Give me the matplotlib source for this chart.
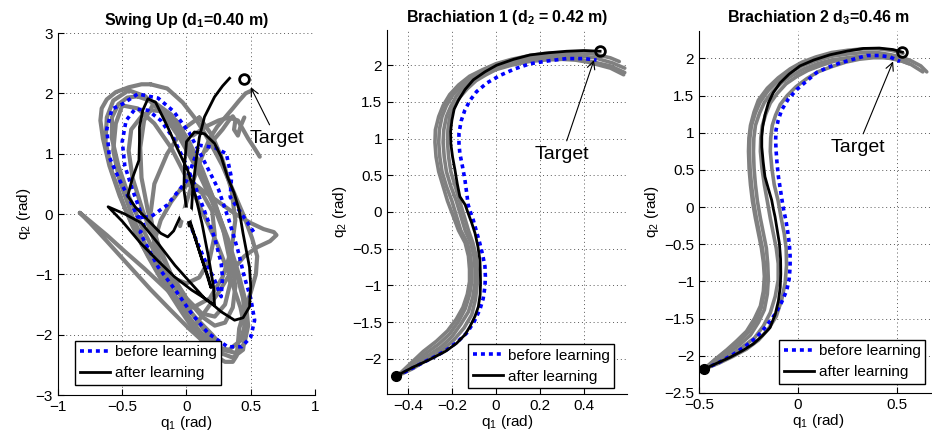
import numpy as np
import matplotlib.pyplot as plt

plt.rcParams['font.family'] = ['Liberation Sans', 'DejaVu Sans']
plt.rcParams['mathtext.fontset'] = 'custom'
plt.rcParams['mathtext.rm'] = 'Liberation Sans'
plt.rcParams['mathtext.it'] = 'Liberation Sans:italic'
plt.rcParams['mathtext.bf'] = 'Liberation Sans:bold'

# ---------------- Swing Up data ----------------
swing_gray_q1 = [
    [-0.28, -0.15, -0.03, 0.08, 0.18, 0.28, 0.37, 0.45, 0.51, 0.55, 0.54, 0.50, 0.45, 0.41, 0.40, 0.39, 0.36, 0.30, 0.22, 0.14, 0.05, -0.06, -0.18, -0.30, -0.42, -0.52, -0.60, -0.65, -0.67, -0.66, -0.62, -0.55, -0.45, -0.35, -0.28],
    [-0.38, -0.25, -0.12, 0.0, 0.12, 0.22, 0.32, 0.40, 0.46, 0.48, 0.45, 0.38, 0.28, 0.18, 0.06, -0.08, -0.22, -0.34, -0.45, -0.53, -0.58, -0.58, -0.53, -0.46, -0.38],
    [-0.18, -0.08, 0.02, 0.12, 0.21, 0.29, 0.35, 0.38, 0.36, 0.30, 0.22, 0.12, 0.00, -0.12, -0.24, -0.34, -0.42, -0.45, -0.43, -0.35, -0.27, -0.18],
    [0.0, 0.12, 0.25, 0.38, 0.50, 0.60, 0.68, 0.70, 0.65, 0.55, 0.45, 0.35, 0.25, 0.15, 0.05],
    [-0.83, -0.75, -0.62, -0.48, -0.33, -0.18, -0.03, 0.10, 0.20, 0.26, 0.25, 0.15, 0.02, -0.12, -0.28, -0.45, -0.62, -0.75, -0.83],
    [-0.05, 0.0, 0.06, 0.12, 0.18, 0.24, 0.30, 0.36, 0.41, 0.46, 0.51],
    [0.05, 0.15, 0.25, 0.33, 0.40, 0.44, 0.48, 0.52, 0.55, 0.57],
    [0.10, 0.20, 0.28, 0.35, 0.38, 0.35, 0.28, 0.18, 0.05, -0.08, -0.18, -0.25, -0.28, -0.25, -0.15, -0.03, 0.10],
    [-0.05, -0.12, -0.20, -0.25, -0.22, -0.12, 0.00, 0.10, 0.18, 0.22, 0.20, 0.12, 0.02, -0.05],
    [-0.45, -0.32, -0.18, -0.05, 0.08, 0.20, 0.30, 0.38, 0.44, 0.46, 0.42, 0.33, 0.22, 0.10, -0.05, -0.20, -0.35, -0.48, -0.58, -0.63, -0.62, -0.57, -0.45],
    [-0.25, -0.12, 0.0, 0.10, 0.20, 0.28, 0.33, 0.34, 0.30, 0.22, 0.12, 0.0, -0.12, -0.22, -0.30, -0.35, -0.36, -0.33, -0.25],
    [-0.50, -0.38, -0.25, -0.12, 0.0, 0.12, 0.24, 0.34, 0.42, 0.46, 0.44, 0.36, 0.26, 0.14, 0.0, -0.15, -0.30, -0.42, -0.52, -0.57, -0.55, -0.50],
    [0.15, 0.22, 0.28, 0.33, 0.36, 0.38, 0.37, 0.40, 0.42, 0.45],
]
swing_gray_q2 = [
    [2.15, 2.08, 1.85, 1.55, 1.20, 0.80, 0.35, -0.05, -0.40, -0.70, -1.00, -1.30, -1.60, -1.90, -2.15, -2.35, -2.45, -2.45, -2.35, -2.15, -1.90, -1.55, -1.15, -0.70, -0.20, 0.30, 0.80, 1.25, 1.55, 1.75, 1.90, 2.02, 2.10, 2.15, 2.15],
    [1.95, 1.85, 1.55, 1.15, 0.65, 0.15, -0.40, -0.95, -1.45, -1.85, -2.15, -2.30, -2.25, -2.05, -1.70, -1.25, -0.75, -0.25, 0.30, 0.80, 1.25, 1.60, 1.82, 1.93, 1.95],
    [1.70, 1.55, 1.20, 0.75, 0.25, -0.25, -0.75, -1.20, -1.55, -1.80, -1.85, -1.70, -1.40, -1.00, -0.50, 0.05, 0.60, 1.05, 1.40, 1.62, 1.72, 1.70],
    [0.60, 0.40, 0.20, 0.00, -0.15, -0.25, -0.30, -0.35, -0.45, -0.55, -0.70, -0.95, -1.30, -1.60, -1.90],
    [0.02, -0.12, -0.35, -0.62, -0.90, -1.20, -1.50, -1.78, -2.00, -2.15, -2.25, -2.15, -1.90, -1.60, -1.25, -0.85, -0.45, -0.15, 0.02],
    [-0.20, 0.20, 0.60, 0.95, 1.25, 1.45, 1.60, 1.75, 1.88, 2.00, 2.05],
    [1.30, 1.45, 1.55, 1.60, 1.55, 1.40, 1.25, 1.12, 1.02, 0.95],
    [1.60, 1.30, 0.90, 0.40, -0.10, -0.60, -1.05, -1.40, -1.55, -1.40, -1.00, -0.50, 0.00, 0.50, 1.00, 1.40, 1.60],
    [0.40, 0.20, -0.10, -0.45, -0.80, -1.05, -1.15, -1.05, -0.75, -0.35, 0.05, 0.35, 0.50, 0.40],
    [2.05, 1.95, 1.65, 1.25, 0.75, 0.20, -0.35, -0.90, -1.40, -1.80, -2.10, -2.25, -2.20, -1.95, -1.55, -1.05, -0.50, 0.10, 0.70, 1.20, 1.60, 1.88, 2.05],
    [1.85, 1.65, 1.25, 0.80, 0.30, -0.20, -0.70, -1.15, -1.50, -1.70, -1.65, -1.40, -1.00, -0.50, 0.05, 0.60, 1.10, 1.55, 1.85],
    [1.80, 1.75, 1.50, 1.10, 0.60, 0.05, -0.50, -1.05, -1.55, -1.95, -2.25, -2.38, -2.30, -2.05, -1.65, -1.15, -0.60, -0.05, 0.55, 1.05, 1.50, 1.80],
    [1.05, 1.25, 1.40, 1.55, 1.62, 1.55, 1.40, 1.30, 1.45, 1.60],
]
swing_before_q1 = [0.00, 0.06, 0.14, 0.22, 0.27, 0.28, 0.27, 0.22, 0.14, 0.06, -0.02, -0.10, -0.20, -0.30, -0.40, -0.47, -0.50, -0.48, -0.42, -0.36, -0.33, -0.36, -0.33, -0.22, -0.07, 0.04, 0.17, 0.32, 0.43, 0.50, 0.53, 0.50, 0.45, 0.40, 0.33, 0.25, 0.12, 0.02, -0.10, -0.22, -0.38, -0.50, -0.58, -0.62, -0.60, -0.52, -0.44, -0.38, -0.28, -0.15, 0.00, 0.10, 0.22, 0.31, 0.35, 0.34, 0.41, 0.48, 0.53]
swing_before_q2 = [0.00, -0.35, -0.75, -1.10, -1.37, -1.05, -0.82, -0.40, 0.05, 0.50, 0.90, 1.25, 1.55, 1.72, 1.74, 1.55, 1.20, 0.80, 0.40, 0.05, -0.20, -0.30, -0.44, -0.88, -1.31, -1.65, -1.98, -2.20, -2.20, -2.04, -1.76, -1.40, -1.04, -0.60, -0.10, 0.40, 0.95, 1.35, 1.70, 1.92, 1.99, 1.82, 1.74, 1.41, 0.94, 0.56, 0.23, -0.05, -0.05, 0.15, 0.55, 1.14, 1.10, 1.00, 0.60, 0.28, 0.06, -0.16, -0.32]
swing_after_q1 = [0.00, 0.06, 0.12, 0.17, 0.19, 0.15, 0.09, 0.04, 0.00, -0.05, -0.10, -0.146, -0.20, -0.30, -0.40, -0.457, -0.42, -0.37, -0.366, -0.366, -0.34, -0.30, -0.24, -0.146, -0.07, 0.01, 0.07, 0.12, 0.17, 0.21, 0.218, 0.15, 0.036, -0.09, -0.22, -0.35, -0.48, -0.61, -0.50, -0.354, -0.22, -0.094, 0.04, 0.166, 0.27, 0.374, 0.44, 0.49, 0.50, 0.49, 0.44, 0.41, 0.37, 0.32, 0.27, 0.218, 0.14, 0.062, 0.0, -0.016, -0.02, 0.0, 0.02, 0.04, 0.05, 0.075, 0.10, 0.14, 0.218, 0.28, 0.335]
swing_after_q2 = [0.00, -0.35, -0.75, -1.05, -1.22, -0.95, -0.55, -0.20, 0.05, -0.05, -0.28, -0.38, -0.32, -0.10, 0.12, 0.30, 0.60, 0.89, 1.20, 1.44, 1.72, 1.91, 1.85, 1.44, 1.08, 0.72, 0.30, -0.15, -0.70, -1.20, -1.51, -1.42, -1.15, -0.85, -0.49, -0.15, 0.00, 0.12, -0.12, -0.49, -0.78, -1.04, -1.26, -1.43, -1.62, -1.76, -1.72, -1.54, -1.20, -0.88, -0.32, 0.06, 0.35, 0.61, 0.95, 1.17, 1.33, 1.36, 1.20, 0.78, 0.40, 0.10, -0.20, 0.10, 0.45, 0.89, 1.27, 1.61, 1.94, 2.12, 2.25]
swing_target = (0.45, 2.24)

# ---------------- Brachiation 1 data ----------------
br1_gray_q1 = [
    [-0.45, -0.39, -0.33, -0.27, -0.22, -0.18, -0.15, -0.13, -0.12, -0.12, -0.125, -0.14, -0.17, -0.195, -0.22, -0.24, -0.26, -0.272, -0.277, -0.275, -0.26, -0.24, -0.21, -0.17, -0.12, -0.06, 0.0, 0.07, 0.15, 0.22, 0.30, 0.38, 0.45, 0.52, 0.56],
    [-0.45, -0.385, -0.32, -0.26, -0.21, -0.17, -0.14, -0.12, -0.11, -0.11, -0.115, -0.13, -0.16, -0.18, -0.20, -0.225, -0.245, -0.255, -0.26, -0.257, -0.245, -0.225, -0.195, -0.155, -0.11, -0.055, 0.0, 0.07, 0.15, 0.22, 0.30, 0.38, 0.45, 0.53, 0.585],
    [-0.45, -0.38, -0.31, -0.25, -0.20, -0.16, -0.125, -0.105, -0.095, -0.095, -0.10, -0.115, -0.14, -0.16, -0.18, -0.205, -0.225, -0.235, -0.24, -0.237, -0.225, -0.205, -0.18, -0.145, -0.10, -0.05, 0.0, 0.07, 0.15, 0.22, 0.30, 0.36, 0.42, 0.52, 0.585],
    [-0.45, -0.375, -0.30, -0.24, -0.19, -0.145, -0.11, -0.093, -0.085, -0.085, -0.09, -0.105, -0.125, -0.145, -0.165, -0.185, -0.205, -0.215, -0.22, -0.218, -0.21, -0.19, -0.165, -0.13, -0.09, -0.045, 0.0, 0.07, 0.15, 0.22, 0.30, 0.36, 0.42, 0.52, 0.58],
]
br1_gray_q2 = [
    [-2.24, -2.07, -1.90, -1.76, -1.62, -1.46, -1.30, -1.12, -0.95, -0.78, -0.60, -0.42, -0.25, -0.05, 0.15, 0.35, 0.55, 0.75, 0.95, 1.12, 1.30, 1.45, 1.60, 1.73, 1.85, 1.94, 2.02, 2.08, 2.13, 2.16, 2.17, 2.17, 2.15, 2.10, 2.05],
    [-2.24, -2.09, -1.93, -1.80, -1.66, -1.49, -1.32, -1.13, -0.95, -0.78, -0.60, -0.42, -0.25, -0.05, 0.15, 0.35, 0.55, 0.75, 0.95, 1.12, 1.30, 1.45, 1.60, 1.72, 1.84, 1.92, 1.99, 2.05, 2.10, 2.13, 2.14, 2.13, 2.10, 2.03, 1.96],
    [-2.24, -2.11, -1.96, -1.84, -1.70, -1.53, -1.36, -1.16, -0.97, -0.78, -0.60, -0.42, -0.25, -0.05, 0.15, 0.35, 0.55, 0.75, 0.95, 1.12, 1.30, 1.44, 1.58, 1.70, 1.82, 1.90, 1.97, 2.02, 2.07, 2.09, 2.10, 2.09, 2.06, 1.99, 1.90],
    [-2.24, -2.13, -1.99, -1.87, -1.74, -1.58, -1.40, -1.19, -0.98, -0.79, -0.60, -0.42, -0.25, -0.05, 0.15, 0.35, 0.55, 0.75, 0.95, 1.12, 1.30, 1.43, 1.56, 1.68, 1.79, 1.87, 1.94, 2.00, 2.05, 2.07, 2.08, 2.07, 2.04, 1.96, 1.87],
]
br1_before_q1 = [-0.45, -0.40, -0.33, -0.27, -0.224, -0.175, -0.133, -0.10, -0.073, -0.058, -0.05, -0.048, -0.05, -0.06, -0.073, -0.088, -0.103, -0.116, -0.126, -0.133, -0.141, -0.152, -0.164, -0.168, -0.168, -0.158, -0.141, -0.118, -0.088, -0.04, 0.018, 0.085, 0.155, 0.24, 0.32, 0.40, 0.457]
br1_before_q2 = [-2.24, -2.16, -2.05, -1.96, -1.88, -1.77, -1.65, -1.50, -1.33, -1.18, -1.02, -0.88, -0.74, -0.59, -0.43, -0.27, -0.11, 0.0, 0.095, 0.26, 0.44, 0.62, 0.80, 0.94, 1.07, 1.24, 1.39, 1.52, 1.64, 1.76, 1.86, 1.95, 2.02, 2.06, 2.09, 2.09, 2.07]
br1_after_q1 = [-0.456, -0.38, -0.30, -0.23, -0.179, -0.14, -0.118, -0.095, -0.08, -0.072, -0.07, -0.071, -0.073, -0.082, -0.095, -0.11, -0.126, -0.14, -0.164, -0.176, -0.186, -0.197, -0.205, -0.206, -0.20, -0.19, -0.171, -0.14, -0.103, -0.05, 0.003, 0.08, 0.155, 0.24, 0.32, 0.40, 0.473]
br1_after_q2 = [-2.24, -2.12, -2.01, -1.90, -1.79, -1.67, -1.56, -1.42, -1.29, -1.13, -0.97, -0.81, -0.65, -0.47, -0.29, -0.15, -0.02, 0.10, 0.21, 0.39, 0.57, 0.75, 0.93, 1.10, 1.25, 1.40, 1.52, 1.67, 1.80, 1.91, 2.00, 2.08, 2.14, 2.17, 2.19, 2.20, 2.19]
br1_target = (0.473, 2.19)

# ---------------- Brachiation 2 data ----------------
br2_gray_q1 = [
    [-0.475, -0.42, -0.36, -0.30, -0.25, -0.21, -0.185, -0.17, -0.165, -0.17, -0.18, -0.195, -0.21, -0.225, -0.235, -0.242, -0.245, -0.243, -0.235, -0.215, -0.19, -0.15, -0.10, -0.04, 0.02, 0.09, 0.17, 0.25, 0.33, 0.40, 0.47, 0.53, 0.57, 0.62, 0.65],
    [-0.475, -0.41, -0.35, -0.29, -0.24, -0.20, -0.17, -0.155, -0.15, -0.153, -0.16, -0.175, -0.19, -0.205, -0.215, -0.222, -0.225, -0.223, -0.215, -0.195, -0.17, -0.13, -0.08, -0.025, 0.03, 0.10, 0.17, 0.25, 0.33, 0.40, 0.47, 0.53, 0.57, 0.60, 0.63],
    [-0.475, -0.40, -0.34, -0.28, -0.22, -0.175, -0.14, -0.115, -0.10, -0.10, -0.11, -0.125, -0.14, -0.155, -0.17, -0.182, -0.19, -0.188, -0.18, -0.163, -0.14, -0.105, -0.06, -0.005, 0.05, 0.12, 0.19, 0.27, 0.34, 0.41, 0.47, 0.52, 0.55],
    [-0.475, -0.40, -0.33, -0.26, -0.20, -0.15, -0.11, -0.083, -0.065, -0.058, -0.06, -0.07, -0.085, -0.10, -0.12, -0.132, -0.14, -0.138, -0.13, -0.113, -0.09, -0.055, -0.01, 0.045, 0.10, 0.17, 0.24, 0.31, 0.38, 0.44, 0.50, 0.56],
    [-0.475, -0.42, -0.36, -0.31, -0.26, -0.22, -0.19, -0.175, -0.17, -0.175, -0.185, -0.20, -0.215, -0.23, -0.24, -0.247, -0.25, -0.248, -0.24, -0.222, -0.20, -0.155, -0.10, -0.04, 0.02, 0.09, 0.17, 0.25, 0.33, 0.40, 0.47, 0.53],
]
br2_gray_q2 = [
    [-2.18, -2.06, -1.93, -1.81, -1.68, -1.52, -1.35, -1.15, -0.95, -0.75, -0.55, -0.35, -0.15, 0.08, 0.30, 0.52, 0.75, 0.93, 1.10, 1.27, 1.42, 1.57, 1.70, 1.81, 1.90, 1.97, 2.03, 2.06, 2.08, 2.08, 2.05, 2.01, 1.97, 1.90, 1.82],
    [-2.18, -2.08, -1.96, -1.84, -1.72, -1.55, -1.38, -1.17, -0.97, -0.76, -0.55, -0.35, -0.15, 0.08, 0.30, 0.52, 0.75, 0.93, 1.10, 1.26, 1.41, 1.55, 1.68, 1.78, 1.86, 1.93, 1.98, 2.01, 2.03, 2.03, 2.00, 1.96, 1.92, 1.87, 1.82],
    [-2.18, -2.09, -1.99, -1.88, -1.76, -1.60, -1.42, -1.20, -0.98, -0.76, -0.55, -0.35, -0.15, 0.08, 0.30, 0.52, 0.75, 0.93, 1.10, 1.25, 1.40, 1.53, 1.66, 1.76, 1.84, 1.91, 1.97, 2.01, 2.03, 2.03, 2.01, 1.98, 1.95],
    [-2.18, -2.10, -2.01, -1.91, -1.79, -1.64, -1.47, -1.25, -1.02, -0.78, -0.55, -0.35, -0.15, 0.08, 0.30, 0.52, 0.75, 0.93, 1.10, 1.24, 1.38, 1.50, 1.62, 1.73, 1.82, 1.89, 1.95, 1.99, 2.01, 2.01, 1.99, 1.93],
    [-2.18, -2.05, -1.92, -1.80, -1.67, -1.50, -1.33, -1.13, -0.93, -0.74, -0.55, -0.35, -0.15, 0.08, 0.30, 0.52, 0.75, 0.93, 1.10, 1.28, 1.44, 1.60, 1.74, 1.86, 1.95, 2.02, 2.08, 2.11, 2.13, 2.13, 2.11, 2.07],
]
br2_before_q1 = [-0.475, -0.40, -0.327, -0.265, -0.209, -0.16, -0.116, -0.083, -0.057, -0.045, -0.04, -0.04, -0.044, -0.052, -0.061, -0.07, -0.077, -0.088, -0.099, -0.106, -0.111, -0.113, -0.111, -0.10, -0.082, -0.05, -0.007, 0.045, 0.094, 0.15, 0.212, 0.28, 0.347, 0.41, 0.465, 0.515]
br2_before_q2 = [-2.18, -2.09, -1.98, -1.87, -1.75, -1.60, -1.44, -1.28, -1.12, -0.97, -0.81, -0.65, -0.49, -0.33, -0.18, -0.07, 0.03, 0.22, 0.41, 0.59, 0.77, 0.90, 1.04, 1.17, 1.31, 1.45, 1.58, 1.70, 1.81, 1.88, 1.94, 1.99, 2.04, 2.04, 2.02, 1.96]
br2_after_q1 = [-0.475, -0.41, -0.343, -0.28, -0.226, -0.18, -0.141, -0.115, -0.099, -0.09, -0.087, -0.088, -0.094, -0.105, -0.116, -0.125, -0.133, -0.15, -0.167, -0.176, -0.183, -0.183, -0.178, -0.167, -0.15, -0.125, -0.091, -0.045, 0.01, 0.08, 0.162, 0.25, 0.33, 0.41, 0.48, 0.527]
br2_after_q2 = [-2.18, -2.10, -2.02, -1.93, -1.84, -1.73, -1.62, -1.44, -1.26, -1.08, -0.90, -0.70, -0.49, -0.31, -0.13, -0.02, 0.095, 0.25, 0.41, 0.61, 0.81, 0.95, 1.085, 1.24, 1.40, 1.54, 1.67, 1.79, 1.90, 1.98, 2.05, 2.10, 2.135, 2.14, 2.12, 2.085]
br2_target = (0.527, 2.085)

titles = ['Swing Up (d$_\\mathbf{1}$=0.40 m)',
          'Brachiation 1 (d$_\\mathbf{2}$ = 0.42 m)',
          'Brachiation 2 d$_\\mathbf{3}$=0.46 m']

gray = (0.5, 0.5, 0.5)
blue = (0.0, 0.0, 1.0)

fig = plt.figure(figsize=(9.32, 4.32), dpi=100)
ax1 = fig.add_axes([0.0622, 0.0856, 0.2758, 0.838])
ax2 = fig.add_axes([0.4152, 0.088, 0.2575, 0.8426])
ax3 = fig.add_axes([0.75, 0.0903, 0.255, 0.838])


def style(ax):
    for s in ['top', 'right']:
        ax.spines[s].set_visible(False)
    ax.grid(True, linestyle=(0, (1, 3)), color='0.35', linewidth=0.7)
    ax.set_axisbelow(True)
    ax.tick_params(direction='in', length=4, labelsize=11, width=0.8)
    ax.set_xlabel('q$_1$ (rad)', fontsize=11, labelpad=0)
    ax.set_ylabel('q$_2$ (rad)', fontsize=11, labelpad=2)


def draw(ax, gq1, gq2, bq1, bq2, aq1, aq2, glw=2.6):
    for x, y in zip(gq1, gq2):
        ax.plot(x, y, color=gray, lw=glw, solid_joinstyle='round', solid_capstyle='round')
    lb, = ax.plot(bq1, bq2, color=blue, lw=2.6, dashes=(1.1, 1.1),
                  dash_capstyle='butt', label='before learning')
    la, = ax.plot(aq1, aq2, color='black', lw=2.0, solid_joinstyle='round',
                  label='after learning')
    return lb, la


def legend(ax, x0, y0):
    leg = ax.legend(loc='lower left', bbox_to_anchor=(x0, y0), borderaxespad=0,
                    fontsize=11, fancybox=False, framealpha=1, edgecolor='black',
                    handlelength=2.0, handletextpad=0.3, borderpad=0.3,
                    labelspacing=0.45)
    leg.get_frame().set_linewidth(1.0)


# Swing Up
draw(ax1, swing_gray_q1, swing_gray_q2, swing_before_q1, swing_before_q2,
     swing_after_q1, swing_after_q2, glw=3.0)
ax1.plot([0], [0], 'o', ms=9, mfc='white', mec='white', zorder=5)
ax1.plot(*swing_target, 'o', ms=7, mfc='white', mec='black', mew=2, zorder=5)
ax1.annotate('Target', xy=(0.50, 2.10), xytext=(0.70, 1.25), fontsize=14,
             ha='center', va='center',
             arrowprops=dict(arrowstyle='->', color='black', lw=0.8, shrinkA=2, shrinkB=0))
ax1.set_xlim(-1, 1)
ax1.set_ylim(-3, 3)
ax1.set_xticks([-1, -0.5, 0, 0.5, 1])
ax1.set_xticklabels(['\u22121', '\u22120.5', '0', '0.5', '1'])
ax1.set_yticks([-3, -2, -1, 0, 1, 2, 3])
ax1.set_yticklabels(['\u22123', '\u22122', '\u22121', '0', '1', '2', '3'])
style(ax1)
ax1.set_title(titles[0], fontsize=11.5, fontweight='bold', pad=6)
legend(ax1, 0.066, 0.028)

# Brachiation 1
draw(ax2, br1_gray_q1, br1_gray_q2, br1_before_q1, br1_before_q2,
     br1_after_q1, br1_after_q2)
ax2.plot([br1_after_q1[0]], [br1_after_q2[0]], 'o', ms=7, color='black', zorder=5)
ax2.plot(*br1_target, 'o', ms=7, mfc='none', mec='black', mew=2, zorder=5)
ax2.annotate('Target', xy=(0.445, 2.07), xytext=(0.30, 0.78), fontsize=14,
             ha='center', va='center',
             arrowprops=dict(arrowstyle='->', color='black', lw=0.8, shrinkA=2, shrinkB=0))
ax2.set_xlim(-0.495, 0.595)
ax2.set_ylim(-2.48, 2.48)
ax2.set_xticks([-0.4, -0.2, 0, 0.2, 0.4])
ax2.set_xticklabels(['\u22120.4', '\u22120.2', '0', '0.2', '0.4'])
ax2.set_yticks([-2, -1.5, -1, -0.5, 0, 0.5, 1, 1.5, 2])
ax2.set_yticklabels(['\u22122', '\u22121.5', '\u22121', '\u22120.5', '0', '0.5', '1', '1.5', '2'])
style(ax2)
ax2.set_title(titles[1], fontsize=11.5, fontweight='bold', pad=6)
legend(ax2, 0.3375, 0.016)

# Brachiation 2
draw(ax3, br2_gray_q1, br2_gray_q2, br2_before_q1, br2_before_q2,
     br2_after_q1, br2_after_q2)
ax3.plot([br2_after_q1[0]], [br2_after_q2[0]], 'o', ms=7, color='black', zorder=5)
ax3.plot(*br2_target, 'o', ms=7, mfc='none', mec='black', mew=2, zorder=5)
ax3.annotate('Target', xy=(0.48, 1.96), xytext=(0.30, 0.80), fontsize=14,
             ha='center', va='center',
             arrowprops=dict(arrowstyle='->', color='black', lw=0.8, shrinkA=2, shrinkB=0))
ax3.set_xlim(-0.5, 0.7)
ax3.set_ylim(-2.5, 2.37)
ax3.set_xticks([-0.5, 0, 0.5])
ax3.set_xticklabels(['\u22120.5', '0', '0.5'])
ax3.set_yticks([-2.5, -2, -1.5, -1, -0.5, 0, 0.5, 1, 1.5, 2])
ax3.set_yticklabels(['\u22122.5', '\u22122', '\u22121.5', '\u22121', '\u22120.5', '0', '0.5', '1', '1.5', '2'])
style(ax3)
ax3.set_title(titles[2], fontsize=11.5, fontweight='bold', pad=6)
legend(ax3, 0.337, 0.025)

fig.savefig('out.png', dpi=100)
